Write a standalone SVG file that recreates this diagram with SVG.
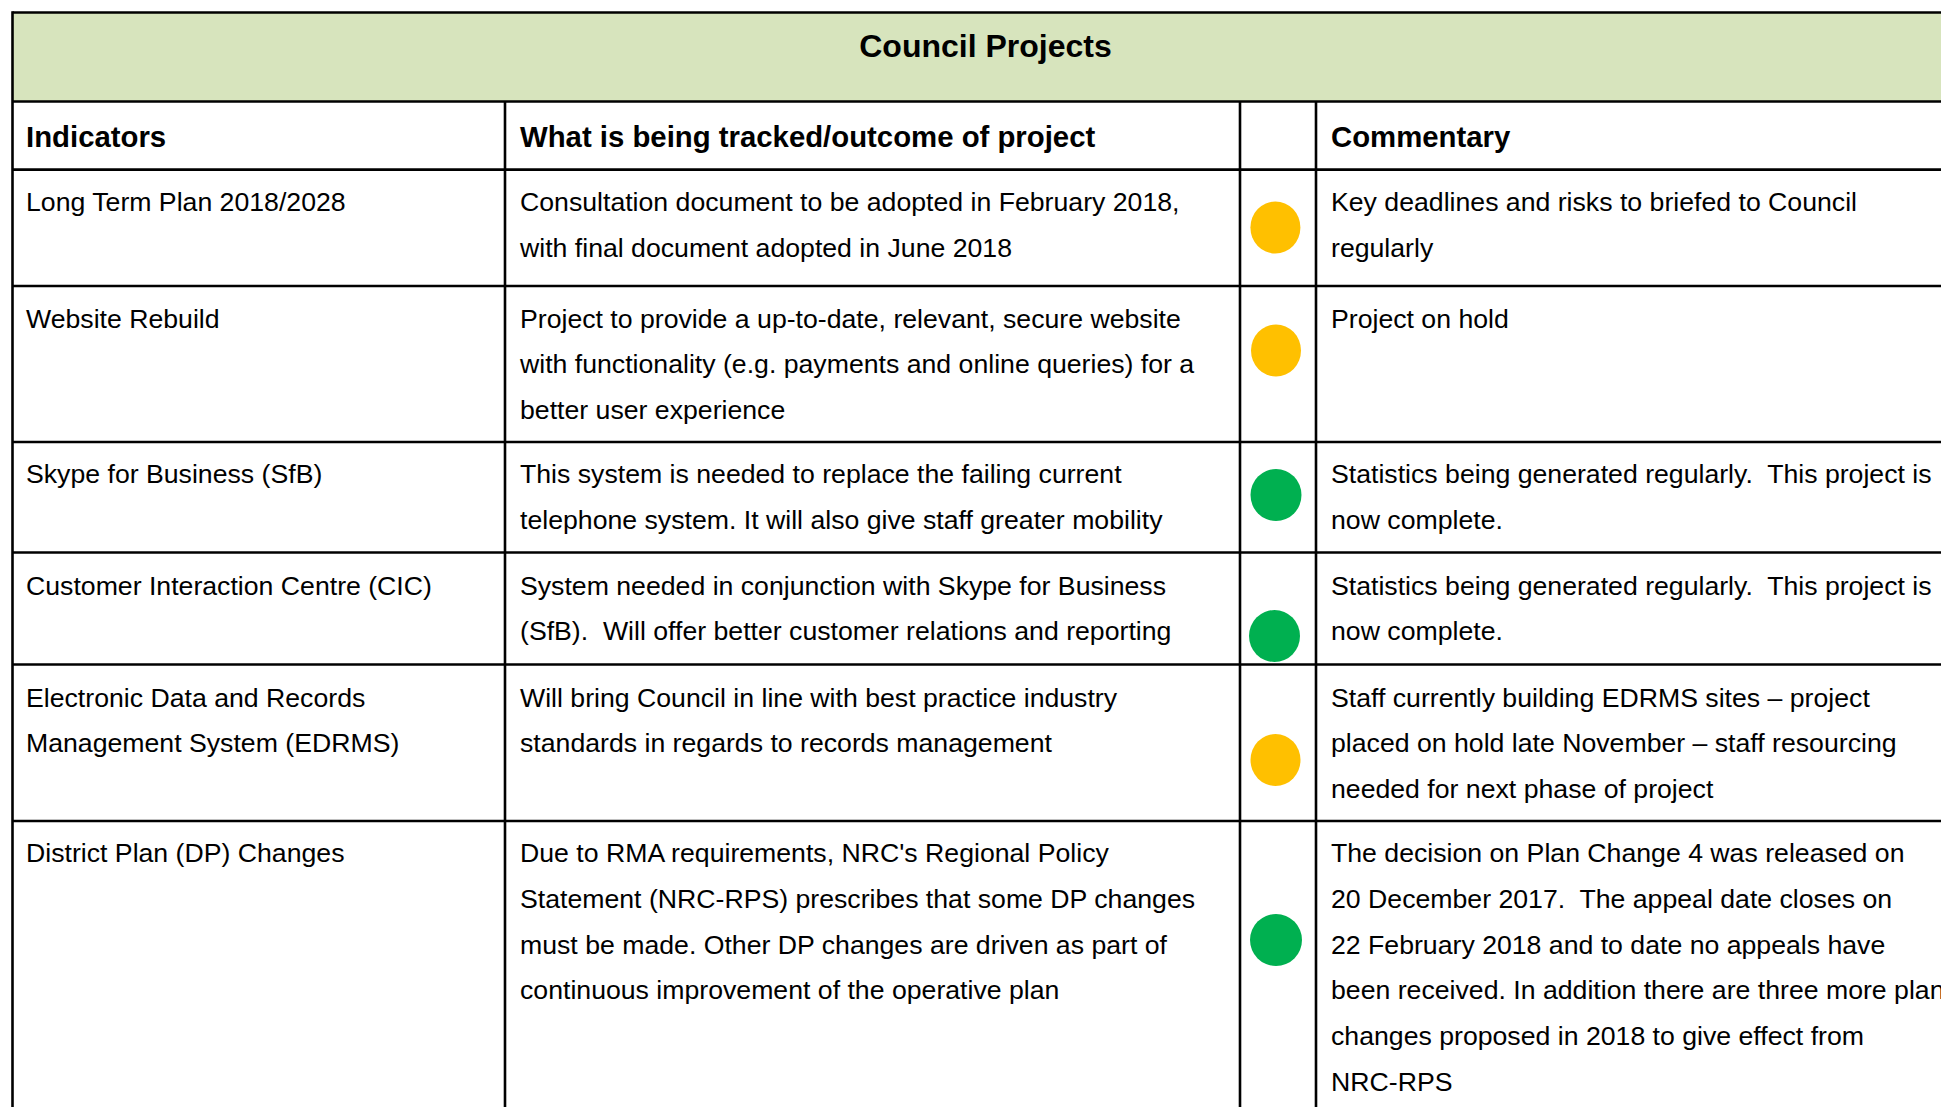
<svg xmlns="http://www.w3.org/2000/svg" width="1941" height="1107" viewBox="0 0 1941 1107">
<style>
text { font-family: "Liberation Sans", Arial, sans-serif; font-size: 26.67px; fill: #000; white-space: pre; }
.h { font-weight: bold; font-size: 29.33px; }
.t { font-weight: bold; font-size: 32px; }
.ln { stroke: #000; stroke-width: 2.6; fill: none; }
.amber { fill: #FFC000; }
.green { fill: #00B050; }
</style>
<rect x="0" y="0" width="1941" height="1107" fill="#FFFFFF"/>
<g id="title">
<rect x="12.5" y="12.5" width="1930" height="89" fill="#D7E4BD"/>
<text class="t" x="985.5" y="56.7" text-anchor="middle">Council Projects</text>
</g>
<g id="grid">
<line class="ln" x1="12.5" y1="12.5" x2="1941" y2="12.5"/>
<line class="ln" x1="12.5" y1="101.5" x2="1941" y2="101.5"/>
<line class="ln" x1="12.5" y1="169.6" x2="1941" y2="169.6"/>
<line class="ln" x1="12.5" y1="286" x2="1941" y2="286"/>
<line class="ln" x1="12.5" y1="442" x2="1941" y2="442"/>
<line class="ln" x1="12.5" y1="552.5" x2="1941" y2="552.5"/>
<line class="ln" x1="12.5" y1="664.5" x2="1941" y2="664.5"/>
<line class="ln" x1="12.5" y1="821" x2="1941" y2="821"/>
<line class="ln" x1="12.5" y1="11.2" x2="12.5" y2="1107"/>
<line class="ln" x1="505" y1="101.5" x2="505" y2="1107"/>
<line class="ln" x1="1240" y1="101.5" x2="1240" y2="1107"/>
<line class="ln" x1="1316" y1="101.5" x2="1316" y2="1107"/>
</g>
<g id="header">
<text class="h" x="26" y="146.5">Indicators</text>
<text class="h" x="520" y="146.5">What is being tracked/outcome of project</text>
<text class="h" x="1331" y="146.5">Commentary</text>
</g>
<g id="row-ltp">
<text x="26" y="211">Long Term Plan 2018/2028</text>
<text x="520" y="211">Consultation document to be adopted in February 2018,</text>
<text x="520" y="256.8">with final document adopted in June 2018</text>
<ellipse class="amber" cx="1275.4" cy="227.5" rx="25" ry="26"/>
<text x="1331" y="211">Key deadlines and risks to briefed to Council</text>
<text x="1331" y="256.8">regularly</text>
</g>
<g id="row-website">
<text x="26" y="327.5">Website Rebuild</text>
<text x="520" y="327.5">Project to provide a up-to-date, relevant, secure website</text>
<text x="520" y="373.3">with functionality (e.g. payments and online queries) for a</text>
<text x="520" y="419.1">better user experience</text>
<ellipse class="amber" cx="1276" cy="350.5" rx="25" ry="26"/>
<text x="1331" y="327.5">Project on hold</text>
</g>
<g id="row-sfb">
<text x="26" y="483">Skype for Business (SfB)</text>
<text x="520" y="483">This system is needed to replace the failing current</text>
<text x="520" y="528.8">telephone system. It will also give staff greater mobility</text>
<ellipse class="green" cx="1276" cy="495" rx="25.5" ry="26"/>
<text x="1331" y="483">Statistics being generated regularly.  This project is</text>
<text x="1331" y="528.8">now complete.</text>
</g>
<g id="row-cic">
<text x="26" y="594.5">Customer Interaction Centre (CIC)</text>
<text x="520" y="594.5">System needed in conjunction with Skype for Business</text>
<text x="520" y="640.3">(SfB).  Will offer better customer relations and reporting</text>
<ellipse class="green" cx="1274.5" cy="636" rx="25.5" ry="26"/>
<text x="1331" y="594.5">Statistics being generated regularly.  This project is</text>
<text x="1331" y="640.3">now complete.</text>
</g>
<g id="row-edrms">
<text x="26" y="706.5">Electronic Data and Records</text>
<text x="26" y="752.3">Management System (EDRMS)</text>
<text x="520" y="706.5">Will bring Council in line with best practice industry</text>
<text x="520" y="752.3">standards in regards to records management</text>
<ellipse class="amber" cx="1275.5" cy="760" rx="25" ry="26"/>
<text x="1331" y="706.5">Staff currently building EDRMS sites – project</text>
<text x="1331" y="752.3">placed on hold late November – staff resourcing</text>
<text x="1331" y="798.1">needed for next phase of project</text>
</g>
<g id="row-dp">
<text x="26" y="862">District Plan (DP) Changes</text>
<text x="520" y="862">Due to RMA requirements, NRC's Regional Policy</text>
<text x="520" y="907.8">Statement (NRC-RPS) prescribes that some DP changes</text>
<text x="520" y="953.6">must be made. Other DP changes are driven as part of</text>
<text x="520" y="999.4">continuous improvement of the operative plan</text>
<ellipse class="green" cx="1276" cy="940" rx="26" ry="26"/>
<text x="1331" y="862">The decision on Plan Change 4 was released on</text>
<text x="1331" y="907.8">20 December 2017.  The appeal date closes on</text>
<text x="1331" y="953.6">22 February 2018 and to date no appeals have</text>
<text x="1331" y="999.4">been received. In addition there are three more plan</text>
<text x="1331" y="1045.2">changes proposed in 2018 to give effect from</text>
<text x="1331" y="1091">NRC-RPS</text>
</g>
</svg>
